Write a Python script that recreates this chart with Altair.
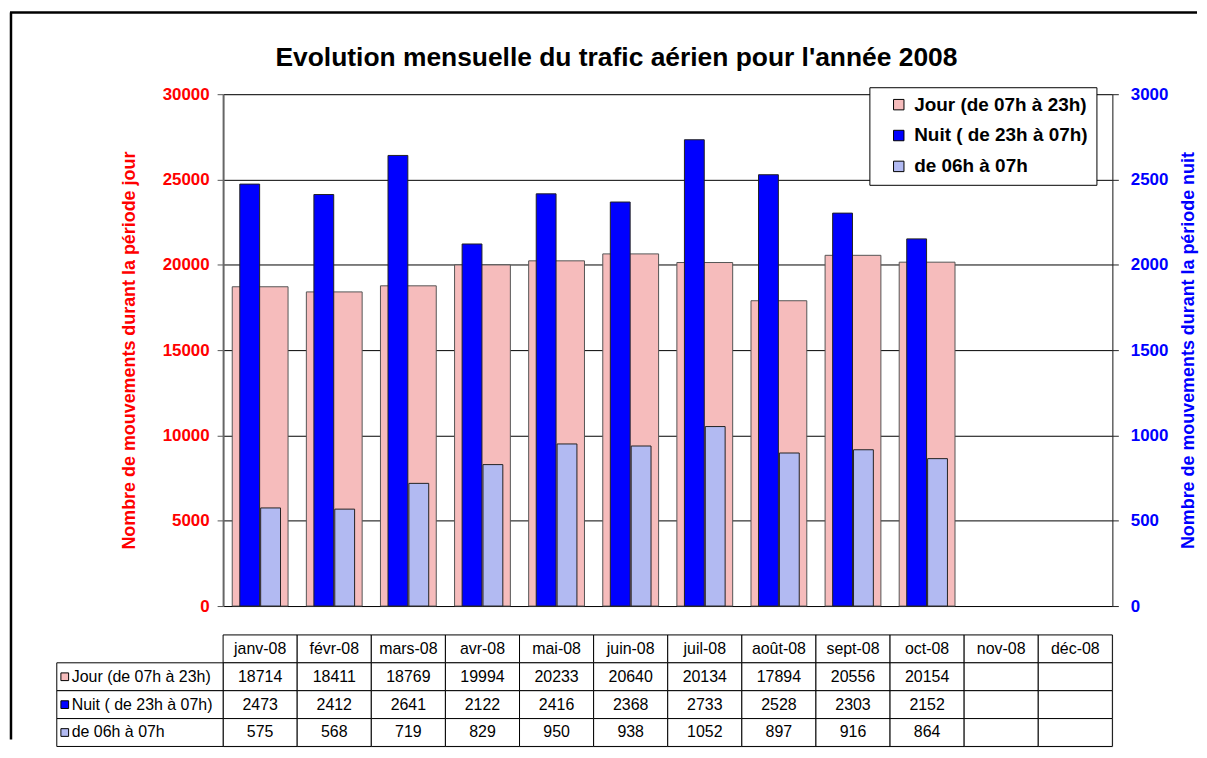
import altair as alt
import pandas as pd

months = ["janv-08", "févr-08", "mars-08", "avr-08", "mai-08", "juin-08",
          "juil-08", "août-08", "sept-08", "oct-08", "nov-08", "déc-08"]
jour = [18714, 18411, 18769, 19994, 20233, 20640, 20134, 17894, 20556, 20154]
nuit = [2473, 2412, 2641, 2122, 2416, 2368, 2733, 2528, 2303, 2152]
matin = [575, 568, 719, 829, 950, 938, 1052, 897, 916, 864]
series = ["Jour (de 07h à 23h)", "Nuit ( de 23h à 07h)", "de 06h à 07h"]
colors = ["#f6bcbc", "#0000ff", "#b2baf2"]
title_text = "Evolution mensuelle du trafic aérien pour l'année 2008"
left_title = "Nombre de mouvements durant la période jour"
right_title = "Nombre de mouvements durant la période nuit"
left_ticks = [0, 5000, 10000, 15000, 20000, 25000, 30000]
right_ticks = [0, 500, 1000, 1500, 2000, 2500, 3000]

FONT = "Liberation Sans"
TFONT = "Liberation Sans Narrow, Arial Narrow, Liberation Sans"
W, H = 893, 514

day_df = pd.DataFrame({"month": months[:len(jour)], "series": series[0], "value": jour})
night_df = pd.concat([
    pd.DataFrame({"month": months[:len(nuit)], "series": series[1], "value": nuit}),
    pd.DataFrame({"month": months[:len(matin)], "series": series[2], "value": matin}),
])

xenc = alt.X("month:N", sort=months,
             scale=alt.Scale(domain=months, paddingInner=0, paddingOuter=0), axis=None)
color = alt.Color("series:N",
                  scale=alt.Scale(domain=series, range=colors),
                  legend=alt.Legend(title=None, orient="none", legendX=649, legendY=-7,
                                    fillColor="white", strokeColor="black", padding=8,
                                    symbolType="square", symbolSize=110, symbolOffset=12,
                                    symbolStrokeColor="black", symbolStrokeWidth=1,
                                    labelFont=FONT, labelFontSize=19, labelFontWeight="bold",
                                    labelColor="black", rowPadding=11, labelOffset=6,
                                    labelLimit=400,
                                    labelExpr="datum.label + '\u00a0\u00a0\u00a0\u00a0'"))

day = alt.Chart(day_df).mark_bar(width=alt.RelativeBandSize(band=0.753),
                                  stroke="#555", strokeWidth=1).encode(
    x=xenc,
    y=alt.Y("value:Q", scale=alt.Scale(domain=[0, 30000], nice=False),
            axis=alt.Axis(orient="left", values=left_ticks, title=left_title,
                          titleColor="#ff0000", labelColor="#ff0000",
                          titleFont=FONT, labelFont=FONT, titleFontSize=18, labelFontSize=17,
                          titleFontWeight="bold", labelFontWeight="bold",
                          tickSize=6, labelPadding=8, titlePadding=24,
                          grid=True, gridColor="#000000", gridWidth=1,
                          domainColor="#666", domainWidth=2, tickColor="#555", format="d")),
    color=color,
)

night = alt.Chart(night_df).mark_bar(stroke="#222", strokeWidth=1).encode(
    x=xenc,
    xOffset=alt.XOffset("series:N", sort=series[1:],
                        scale=alt.Scale(domain=series[1:], paddingInner=0.05, paddingOuter=0.8)),
    y=alt.Y("value:Q", scale=alt.Scale(domain=[0, 3000], nice=False),
            axis=alt.Axis(orient="right", values=right_ticks, title=right_title,
                          titleAngle=270, titleBaseline="top",
                          titleColor="#0000ff", labelColor="#0000ff",
                          titleFont=FONT, labelFont=FONT, titleFontSize=18, labelFontSize=17,
                          titleFontWeight="bold", labelFontWeight="bold",
                          tickSize=6, labelPadding=12, titlePadding=12, grid=False,
                          domainColor="#222", tickColor="#222", format="d")),
    color=color,
)

one = pd.DataFrame({"t": [title_text]})
frame_v = alt.Chart(one).mark_rule(color="black", strokeWidth=2.5).encode(
    x=alt.value(-213), y=alt.value(-82), y2=alt.value(648))
frame_h = alt.Chart(one).mark_rule(color="black", strokeWidth=2.5).encode(
    x=alt.value(-214), x2=alt.value(978), y=alt.value(-82))
title = alt.Chart(one).mark_text(font=FONT, fontSize=26.5, fontWeight="bold", color="black",
                                 align="center", baseline="middle").encode(
    text="t:N", x=alt.value(395), y=alt.value(-36))

top = alt.layer(frame_v, frame_h, title, day, night).resolve_scale(y="independent").properties(
    width=W, height=H)

# ---- data table ----
rows = ["head"] + series
cells = []
for i, m in enumerate(months):
    cells.append({"row": "head", "month": m, "text": m})
    for s, vals in zip(series, [jour, nuit, matin]):
        cells.append({"row": s, "month": m, "text": str(vals[i]) if i < len(vals) else ""})
cells_df = pd.DataFrame(cells)
labels_df = pd.DataFrame({"row": series, "text": series, "fillc": colors})

yenc = alt.Y("row:N", sort=rows, scale=alt.Scale(domain=rows, paddingInner=0, paddingOuter=0),
             axis=None)
xenc_t = alt.X("month:N", sort=months,
               scale=alt.Scale(domain=months, paddingInner=0, paddingOuter=0), axis=None)

cell_rect = alt.Chart(cells_df).mark_rect(fill="white", stroke="black", strokeWidth=1).encode(
    x=xenc_t, y=yenc)
cell_text = alt.Chart(cells_df).mark_text(font=TFONT, fontSize=16, color="black").encode(
    x=xenc_t, y=yenc, text="text:N")
lab_rect = alt.Chart(labels_df).mark_rect(fill="white", stroke="black", strokeWidth=1).encode(
    x=alt.value(-167), x2=alt.value(0), y=yenc)
lab_sym = alt.Chart(labels_df).mark_point(shape="square", size=60, filled=True, opacity=1,
                                          stroke="black", strokeWidth=1).encode(
    x=alt.value(-159), y=yenc, fill=alt.Fill("fillc:N", scale=None))
lab_text = alt.Chart(labels_df).mark_text(font=TFONT, fontSize=16, color="black",
                                          align="left").encode(
    x=alt.value(-152), y=yenc, text="text:N")

bottom = alt.layer(cell_rect, cell_text, lab_rect, lab_sym, lab_text).properties(width=W, height=112)

chart = alt.vconcat(top, bottom, spacing=29, bounds="flush").properties(
    padding={"left": 0, "top": 1, "right": 0, "bottom": 0}
).configure_view(stroke=None).configure(background="white")

chart.save("out.html", embed_options={"renderer": "svg", "actions": False})
